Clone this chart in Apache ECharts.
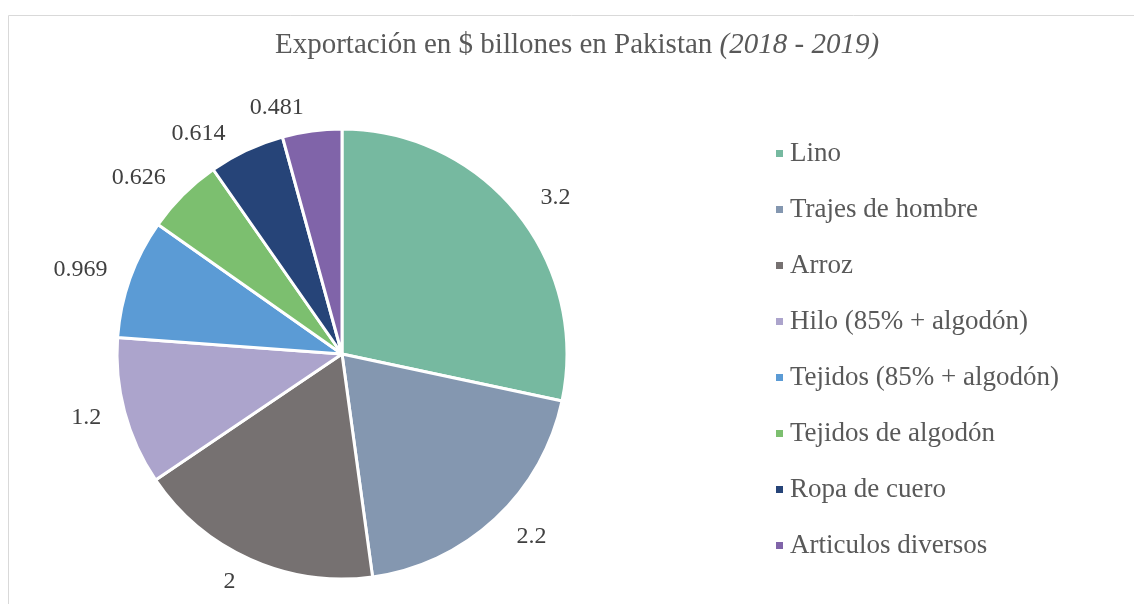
<!DOCTYPE html>
<html>
<head>
<meta charset="utf-8">
<script src="https://cdn.jsdelivr.net/npm/echarts@6/dist/echarts.min.js"></script>
<style>
    html, body { margin: 0; padding: 0; background: #fff; }
    #chart { width: 1134px; height: 604px; }
</style>
</head>
<body>
<div id="chart"></div>
<script>
// categorias y valores (miles de millones $)
const categorias = ['Lino', 'Trajes de hombre', 'Arroz', 'Hilo (85% + algodón)',
    'Tejidos (85% + algodón)', 'Tejidos de algodón', 'Ropa de cuero', 'Articulos diversos'];
const valores = [3.2, 2.2, 2, 1.2, 0.969, 0.626, 0.614, 0.481];
const colores = ['#76b9a0', '#8497b0', '#767171', '#aca4cc', '#5b9bd5', '#7cbf6f', '#264478', '#8064a9'];

let chart = echarts.init(document.getElementById('chart'));

chart.setOption({
    animation: false,
    color: colores,
    textStyle: { fontFamily: 'Liberation Serif' },
    graphic: [{
        type: 'rect',
        shape: { x: 8.5, y: 15.5, width: 1200, height: 700 },
        style: { fill: 'none', stroke: '#d9d9d9', lineWidth: 1 },
        silent: true
    }],
    title: {
        text: '{a|Exportación en $ billones en Pakistan }{b|(2018 - 2019)}',
        left: 270,
        top: 26,
        textStyle: {
            fontWeight: 'normal',
            rich: {
                a: { fontFamily: 'Liberation Serif', fontSize: 29, color: '#595959', fontWeight: 'normal' },
                b: { fontFamily: 'Liberation Serif', fontSize: 29, color: '#595959', fontWeight: 'normal', fontStyle: 'italic' }
            }
        }
    },
    legend: {
        orient: 'vertical',
        left: 769,
        top: 135,
        icon: 'rect',
        itemWidth: 9,
        itemHeight: 9,
        itemGap: 29,
        textStyle: {
            fontFamily: 'Liberation Serif',
            fontSize: 27,
            color: '#595959',
            padding: [0, 0, 0, 1]
        },
        data: categorias
    },
    series: [{
        name: 'Exportación',
        type: 'pie',
        center: [342, 354],
        radius: ['0%', 225],
        startAngle: 90,
        clockwise: true,
        itemStyle: { borderColor: '#fff', borderWidth: 3 },
        label: {
            show: true,
            position: 'outside',
            formatter: '{c}',
            fontFamily: 'Liberation Serif',
            fontSize: 24,
            color: '#404040'
        },
        labelLine: { show: false, length: 24, length2: 0 },
        data: categorias.map((c, i) => ({ name: c, value: valores[i] }))
    }]
});
</script>
</body>
</html>
